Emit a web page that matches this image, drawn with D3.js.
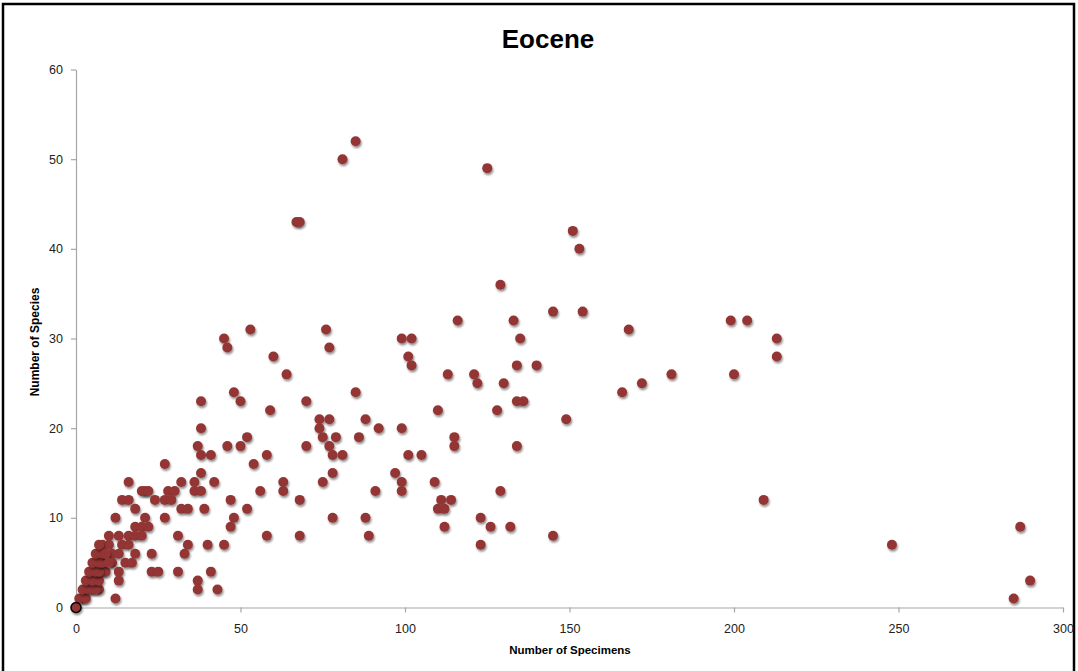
<!DOCTYPE html>
<html><head><meta charset="utf-8">
<script src="https://cdn.jsdelivr.net/npm/d3@7"></script>
<style>body{margin:0;background:#fff}svg{display:block}</style>
</head><body><svg id="c" width="1078" height="671"></svg>
<script>
const title = "Eocene";
const xLabel = "Number of Specimens";
const yLabel = "Number of Species";
const xTicks = [0, 50, 100, 150, 200, 250, 300];
const yTicks = [0, 10, 20, 30, 40, 50, 60];
const specimens = [85,81,125,67,68,151,153,129,145,154,116,133,199,204,168,53,76,213,213,200,45,46,77,99,102,135,60,101,102,134,140,64,113,121,181,122,130,172,48,85,166,38,50,70,134,136,59,110,128,74,77,88,149,38,74,92,99,52,75,79,86,115,37,46,50,70,77,115,134,38,41,58,78,81,101,105,27,54,38,78,97,16,32,36,42,63,75,99,109,20,21,22,28,30,36,38,56,63,91,99,129,14,16,24,27,29,47,68,111,114,209,18,32,34,39,52,110,112,12,21,27,48,78,88,123,18,20,22,47,112,126,132,287,10,13,16,18,20,31,58,68,89,145,8,10,14,16,34,40,45,123,248,7,11,13,18,23,33,6,11,15,17,5,8,9,13,23,25,31,41,4,6,13,37,290,3,7,37,43,2,12,285,1,3,2,4,5,6,3,5,7,4,6,7,5,7,8,6,8,7,9,10,0];
const species =   [52,50,49,43,43,42,40,36,33,33,32,32,32,32,31,31,31,30,28,26,30,29,29,30,30,30,28,28,27,27,27,26,26,26,26,25,25,25,24,24,24,23,23,23,23,23,22,22,22,21,21,21,21,20,20,20,20,19,19,19,19,19,18,18,18,18,18,18,18,17,17,17,17,17,17,17,16,16,15,15,15,14,14,14,14,14,14,14,14,13,13,13,13,13,13,13,13,13,13,13,13,12,12,12,12,12,12,12,12,12,12,11,11,11,11,11,11,11,10,10,10,10,10,10,10,9,9,9,9,9,9,9,9,8,8,8,8,8,8,8,8,8,8,7,7,7,7,7,7,7,7,7,6,6,6,6,6,6,5,5,5,5,4,4,4,4,4,4,4,4,3,3,3,3,3,2,2,2,2,1,1,1,1,1,2,2,2,2,3,3,3,4,4,4,5,5,5,6,6,7,6,5,0];

const svg = d3.select("#c");
const defs = svg.append("defs");
const f = defs.append("filter").attr("id","sh").attr("x","-50%").attr("y","-50%").attr("width","200%").attr("height","200%");
f.append("feGaussianBlur").attr("in","SourceAlpha").attr("stdDeviation",1.2).attr("result","b");
f.append("feOffset").attr("in","b").attr("dx",0.8).attr("dy",1.8).attr("result","o");
f.append("feComponentTransfer").attr("in","o").attr("result","o2").append("feFuncA").attr("type","linear").attr("slope",0.45);
const m = f.append("feMerge"); m.append("feMergeNode").attr("in","o2"); m.append("feMergeNode").attr("in","SourceGraphic");

svg.append("rect").attr("x",3).attr("y",4).attr("width",1071).attr("height",720)
  .attr("fill","none").attr("stroke","#000").attr("stroke-width",2.5);

const x = d3.scaleLinear().domain([0,300]).range([76,1063]);
const y = d3.scaleLinear().domain([0,60]).range([607.5,69.5]);

const font = "'Liberation Sans', Arial, sans-serif";
const gx = svg.append("g").attr("transform","translate(0,607.5)")
  .call(d3.axisBottom(x).tickValues(xTicks).tickSize(5).tickPadding(12).tickSizeOuter(0));
const gy = svg.append("g").attr("transform","translate(76,0)")
  .call(d3.axisLeft(y).tickValues(yTicks).tickSize(5).tickPadding(8).tickSizeOuter(0));
[gx,gy].forEach(g=>{
  g.select(".domain").attr("stroke","#a6a6a6").attr("stroke-width",1.2);
  g.selectAll(".tick line").attr("stroke","#a6a6a6").attr("stroke-width",1.2);
  g.selectAll(".tick text").attr("fill","#222").style("font-family",font).style("font-size","12.5px");
});

svg.append("text").attr("x",548).attr("y",48).attr("text-anchor","middle")
  .style("font-family",font).style("font-weight","bold").style("font-size","26px").text(title);
svg.append("text").attr("x",570).attr("y",654).attr("text-anchor","middle")
  .style("font-family",font).style("font-weight","bold").style("font-size","11.5px").text(xLabel);
svg.append("text").attr("transform","translate(39,342) rotate(-90)").attr("text-anchor","middle")
  .style("font-family",font).style("font-weight","bold").style("font-size","12px").text(yLabel);

const pts = specimens.map((s,i)=>({s, n: species[i]}));
svg.append("g").selectAll("circle").data(pts).join("circle")
  .attr("cx",d=>x(d.s)).attr("cy",d=>y(d.n)).attr("r",5)
  .attr("fill","#943634")
  .attr("stroke",d=>d.s===0&&d.n===0?"#000":"none").attr("stroke-width",1.5)
  .attr("filter","url(#sh)");
</script></body></html>
